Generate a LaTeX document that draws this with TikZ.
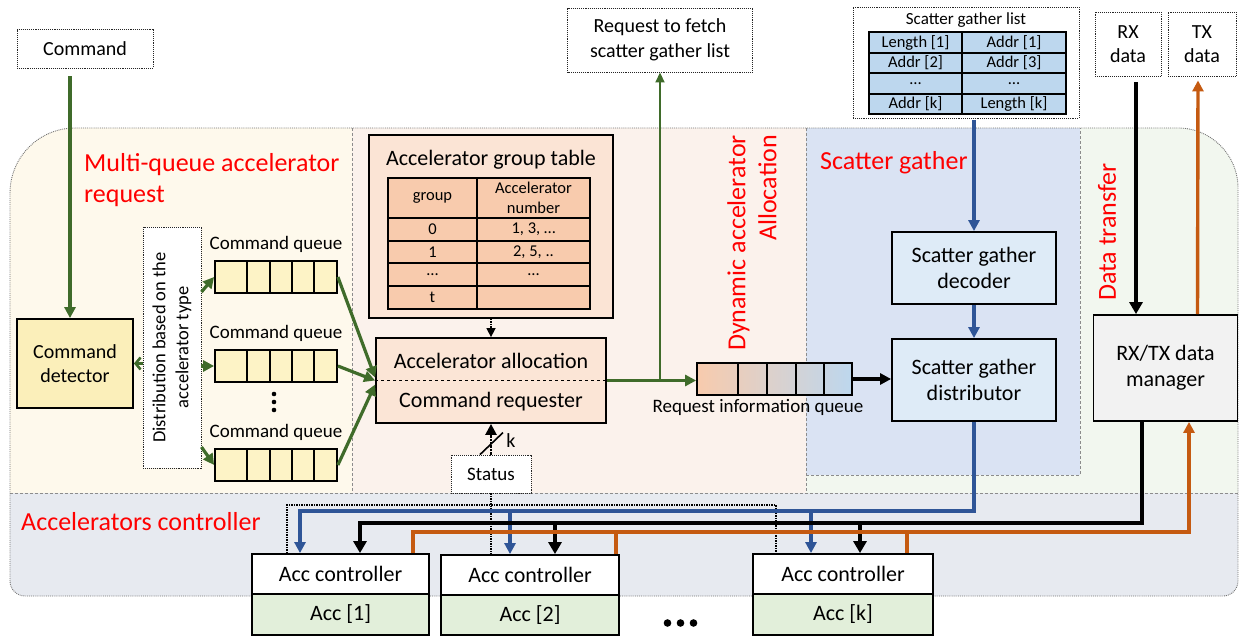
\documentclass[tikz,border=0pt]{standalone}
\usepackage{fontspec}
\setmainfont{Carlito}
\usetikzlibrary{arrows.meta}
\definecolor{yelR}{HTML}{FEF9EC}
\definecolor{pchR}{HTML}{FBF2EC}
\definecolor{grnR}{HTML}{F2F7EF}
\definecolor{gryR}{HTML}{E7EAF0}
\definecolor{bluR}{HTML}{DAE3F3}
\definecolor{detY}{HTML}{FBEFBA}
\definecolor{qY}{HTML}{FDF3C6}
\definecolor{tblO}{HTML}{FBE4D5}
\definecolor{tblC}{HTML}{F8CBAD}
\definecolor{allocF}{HTML}{FBE5D6}
\definecolor{sgC}{HTML}{BDD7EE}
\definecolor{decF}{HTML}{DEEBF7}
\definecolor{mgrF}{HTML}{F2F2F2}
\definecolor{accF}{HTML}{E2EFDA}
\definecolor{grn}{HTML}{3F6B2A}
\definecolor{blu}{HTML}{2F5597}
\definecolor{org}{HTML}{C55A11}
\definecolor{rqL}{HTML}{F8CBAD}
\definecolor{rqR}{HTML}{BDD7EE}
\tikzset{
  blk/.style={draw=black, line width=1.8pt, inner sep=0pt},
  dotbox/.style={draw=black!85, densely dotted, line width=0.9pt, inner sep=0pt},
  tline/.style={draw=black, line width=1.8pt},
  regline/.style={draw=black!45, densely dashed, line width=0.6pt},
  garr/.style={draw=grn, line width=3.2pt, -{Triangle[length=11pt,width=11pt]}},
  barr/.style={draw=blu, line width=3.4pt, -{Triangle[length=11pt,width=11pt]}},
  karr/.style={draw=black, line width=4.4pt, -{Triangle[length=12pt,width=13pt]}},
  oarr/.style={draw=org, line width=3.4pt, -{Triangle[length=11pt,width=11pt]}},
  oline/.style={draw=org, line width=3.4pt},
  dotbus/.style={draw=black, densely dotted, line width=1.5pt},
  redlbl/.style={text=red, font=\fontsize{26pt}{31pt}\selectfont, inner sep=0pt},
  fa/.style={font=\fontsize{22pt}{26.5pt}\selectfont},
  fb/.style={font=\fontsize{20pt}{24.5pt}\selectfont},
  fc/.style={font=\fontsize{19pt}{23pt}\selectfont},
  fd/.style={font=\fontsize{18.5pt}{23pt}\selectfont},
  fe/.style={font=\fontsize{16.5pt}{20.5pt}\selectfont},
  ff/.style={font=\fontsize{17pt}{21pt}\selectfont},
}
\begin{document}
\begin{tikzpicture}[x=1pt,y=-1pt]
\useasboundingbox (0,0) rectangle (1239,636);
% ---------- background regions ----------
\begin{scope}
\clip (10,193) arc[start angle=180,end angle=270,radius=65] -- (1178,128) arc[start angle=270,end angle=360,radius=60] -- (1238,581) arc[start angle=0,end angle=90,radius=15] -- (25,596) arc[start angle=90,end angle=180,radius=15] -- cycle;
\fill[yelR] (0,120) rectangle (352,493);
\fill[pchR] (352,120) rectangle (806,493);
\fill[grnR] (806,120) rectangle (1239,493);
\fill[gryR] (0,493) rectangle (1239,600);
\fill[bluR] (806,128) rectangle (1080,475);
\draw[regline] (352,128) -- (352,493) (806,128) -- (806,493) (0,493) -- (1239,493);
\draw[regline] (806,475) -- (1080,475) -- (1080,128);
\end{scope}
\draw[draw=black!55, densely dotted, line width=0.9pt] (10,193) arc[start angle=180,end angle=270,radius=65] -- (1178,128) arc[start angle=270,end angle=360,radius=60] -- (1238,581) arc[start angle=0,end angle=90,radius=15] -- (25,596) arc[start angle=90,end angle=180,radius=15] -- cycle;

% ---------- region labels ----------
\node[redlbl, align=left, anchor=west] (lblmq) at (84,180) {Multi-queue accelerator\\request};
\node[redlbl, anchor=west] (lblsg) at (820,163) {Scatter gather};
\node[redlbl, anchor=west] (lblac) at (21,522) {Accelerators controller};
\node[redlbl, align=right, rotate=90] (lblda) at (752,243) {Dynamic accelerator\\Allocation};
\node[redlbl, rotate=90] (lbldt) at (1107,232) {Data transfer};

% ---------- left part ----------
\node[dotbox, fill=white, fb, minimum width=136pt, minimum height=39pt] (cmd) at (85,48.5) {Command};
\node[blk, fill=detY, fb, align=center, minimum width=116pt, minimum height=89pt] (det) at (75,363.5) {Command\\detector};
\node[dotbox, fill=white, fd, align=center, rotate=90, minimum width=241pt, minimum height=58pt] (dist) at (172,347.5) {Distribution based on the\\accelerator type};

\foreach \n/\y in {q1/277,q2/366,q3/465}{
  \node[blk, fill=qY, minimum width=122pt, minimum height=32pt] (\n) at (276,\y) {};
  \foreach \dx in {33,56,78,100}{
    \draw[tline] (\n.north west) ++(\dx,0) -- ++(0,32);
  }
}
\node[fc] (ql1) at (276,244) {Command queue};
\node[fc] (ql2) at (276,333) {Command queue};
\node[fc] (ql3) at (276,432) {Command queue};
\fill (274,394) circle[radius=2.3];
\fill (274,402) circle[radius=2.3];
\fill (274,410) circle[radius=2.3];

% ---------- dynamic allocation part ----------
\node[blk, fill=tblO, minimum width=244pt, minimum height=183pt] (tblbox) at (491,226.5) {};
\node[fa] (tbltitle) at (491,160) {Accelerator group table};
\fill[tblC] (388,178) rectangle (590,309);
\draw[tline] (388,178) rectangle (590,309) (477,178) -- (477,309)
  (388,218) -- (590,218) (388,241) -- (590,241) (388,263) -- (590,263) (388,286) -- (590,286);
\node[fe] (ta0) at (432.5,198) {group};
\node[fe, align=center] (tb0) at (533.5,198) {Accelerator\\number};
\node[fe] (ta1) at (432.5,229.5) {0};
\node[fe] (tb1) at (533.5,229.5) {1, 3, …};
\node[fe] (ta2) at (432.5,252) {1};
\node[fe] (tb2) at (533.5,252) {2, 5, ..};
\node[fe] (ta3) at (432.5,274.5) {…};
\node[fe] (tb3) at (533.5,274.5) {…};
\node[fe] (ta4) at (432.5,297.5) {t};

\node[blk, fill=allocF, minimum width=230pt, minimum height=85pt] (alloc) at (491,380.5) {};
\draw[dashed, line width=1pt] (alloc.west) -- (alloc.east);
\node[fa] (alloc1) at (491,361) {Accelerator allocation};
\node[fa] (alloc2) at (491,402) {Command requester};

\node[dotbox, fill=white, fc, minimum width=80pt, minimum height=38pt] (status) at (491,474) {Status};
\node[dotbox, fill=white, fb, align=center, minimum width=185pt, minimum height=64pt] (reqf) at (660,40) {Request to fetch\\scatter gather list};

\node[draw=black, line width=1.8pt, inner sep=0pt, left color=rqL, right color=rqR, minimum width=155pt, minimum height=32pt] (rq) at (774.5,379) {};
\foreach \dx in {42,71,100,128}{
  \draw[tline] (rq.north west) ++(\dx,0) -- ++(0,32);
}
\node[fc] (rqlabel) at (758,407) {Request information queue};

% ---------- scatter gather ----------
\node[dotbox, fill=white, minimum width=226pt, minimum height=111pt] (sgl) at (966,62.5) {};
\node[ff] (sgltitle) at (966,20) {Scatter gather list};
\fill[sgC] (869,32) rectangle (1066,114);
\draw[tline] (869,32) rectangle (1066,114) (962,32) -- (962,114)
  (869,53) -- (1066,53) (869,73) -- (1066,73) (869,94) -- (1066,94);
\node[fe] (sa1) at (915.5,42.5) {Length [1]};
\node[fe] (sb1) at (1014,42.5) {Addr [1]};
\node[fe] (sa2) at (915.5,63) {Addr [2]};
\node[fe] (sb2) at (1014,63) {Addr [3]};
\node[fe] (sa3) at (915.5,83.5) {…};
\node[fe] (sb3) at (1014,83.5) {…};
\node[fe] (sa4) at (915.5,104) {Addr [k]};
\node[fe] (sb4) at (1014,104) {Length [k]};

\node[blk, fill=decF, fa, align=center, minimum width=164pt, minimum height=72pt] (dec) at (974,268) {Scatter gather\\decoder};
\node[blk, fill=decF, fa, align=center, minimum width=164pt, minimum height=82pt] (distr) at (974,380) {Scatter gather\\distributor};

% ---------- data transfer ----------
\node[dotbox, fill=white, fb, align=center, minimum width=66pt, minimum height=64pt] (rx) at (1128,44) {RX\\data};
\node[dotbox, fill=white, fb, align=center, minimum width=68pt, minimum height=64pt] (tx) at (1202,44) {TX\\data};
\node[blk, fill=mgrF, fa, align=center, minimum width=144pt, minimum height=106pt] (mgr) at (1165.5,368) {RX/TX data\\manager};

% ---------- accelerators ----------
\node[blk, fill=white, fa, minimum width=177pt, minimum height=40pt] (ac1) at (340.5,574) {Acc controller};
\node[blk, fill=accF, fa, minimum width=177pt, minimum height=41pt] (acc1) at (340.5,614.5) {Acc [1]};
\node[blk, fill=white, fa, minimum width=178pt, minimum height=40pt] (ac2) at (530,575) {Acc controller};
\node[blk, fill=accF, fa, minimum width=178pt, minimum height=40pt] (acc2) at (530,615) {Acc [2]};
\node[blk, fill=white, fa, minimum width=180pt, minimum height=40pt] (ack) at (843,574) {Acc controller};
\node[blk, fill=accF, fa, minimum width=180pt, minimum height=41pt] (acck) at (843,614.5) {Acc [k]};
\fill (667.5,623) circle[radius=3.8];
\fill (680.5,623) circle[radius=3.8];
\fill (693.5,623) circle[radius=3.8];

% ---------- connectors: green ----------
\draw[garr, shorten <=8pt] ([xshift=-15pt]cmd.south) -- ([xshift=-15pt]cmd.south |- det.north);
\draw[draw=grn, line width=2.6pt, -{Straight Barb[length=5pt,width=12pt]}] (det.east -| dist.north) -- (det.east);
\draw[garr] ([yshift=55.5pt]dist.south) -- (q1.west);
\draw[garr] (dist.south |- q2.west) -- (q2.west);
\draw[garr] ([yshift=-99.5pt]dist.south) -- (q3.west);
\draw[garr] (q1.east) -- ([yshift=3pt]alloc.west);
\draw[garr] (q2.east) -- (alloc.west);
\draw[garr] (q3.east) -- ([yshift=-4pt]alloc.west);
\draw[garr] (alloc.east) -- (alloc.east -| rq.west);
\draw[draw=grn, line width=1.8pt, -{Triangle[length=10pt,width=9pt]}] (alloc.east -| reqf.south) -- (reqf.south);

% ---------- connectors: table / status ----------
\draw[draw=black, densely dotted, line width=1.5pt, -{Triangle[length=9pt,width=9pt]}] (tblbox.south) -- (alloc.north);
\draw[draw=black, densely dotted, line width=2.4pt, -{Triangle[length=11pt,width=11pt]}] (status.north) -- (alloc.south);
\draw[line width=1.6pt] (status.north) ++(-11,0) -- ++(23,-22);
\node[fb, inner sep=0pt] (klbl) at (511,441) {k};
\coordinate (busD) at (491,505);
\draw[dotbus] ([xshift=-53.5pt]ac1.north) |- (busD) -| ([xshift=-67pt]ack.north);
\draw[dotbus] (status.south) -- (status.south |- ac2.north);

% ---------- connectors: blue ----------
\draw[barr, shorten <=2pt] (sgl.south -| dec.north) -- (dec.north);
\draw[barr] (dec.south) -- (distr.north);
\draw[draw=black, line width=3.2pt, -{Triangle[length=11pt,width=11pt]}] (rq.east) -- (rq.east -| distr.west);
\coordinate (bB) at (300,511);
\draw[barr] (distr.south) |- (bB) -- ([xshift=-40.5pt]ac1.north);
\draw[barr] ([xshift=-20pt]ac2.north |- bB) -- ([xshift=-20pt]ac2.north);
\draw[barr] ([xshift=-32pt]ack.north |- bB) -- ([xshift=-32pt]ack.north);

% ---------- connectors: black ----------
\draw[karr, shorten <=6pt] ([xshift=8pt]rx.south) -- ([xshift=8pt]rx.south |- mgr.north);
\coordinate (kB) at (360,523);
\draw[karr] ([xshift=-23.5pt]mgr.south) |- (kB) -- ([xshift=19.5pt]ac1.north);
\draw[karr] ([xshift=25pt]ac2.north |- kB) -- ([xshift=25pt]ac2.north);
\draw[karr] ([xshift=17pt]ack.north |- kB) -- ([xshift=17pt]ack.north);

% ---------- connectors: orange ----------
\draw[oarr, shorten >=4pt] ([xshift=32pt]mgr.north) -- ([xshift=-4pt]tx.south);
\coordinate (oB) at (1189,532);
\draw[oarr] ([xshift=72.5pt]ac1.north) |- (oB) -- ([xshift=23.5pt]mgr.south);
\draw[oline] ([xshift=86pt]ac2.north) -- ([xshift=86pt]ac2.north |- oB);
\draw[oline] ([xshift=64pt]ack.north) -- ([xshift=64pt]ack.north |- oB);
\end{tikzpicture}
\end{document}
